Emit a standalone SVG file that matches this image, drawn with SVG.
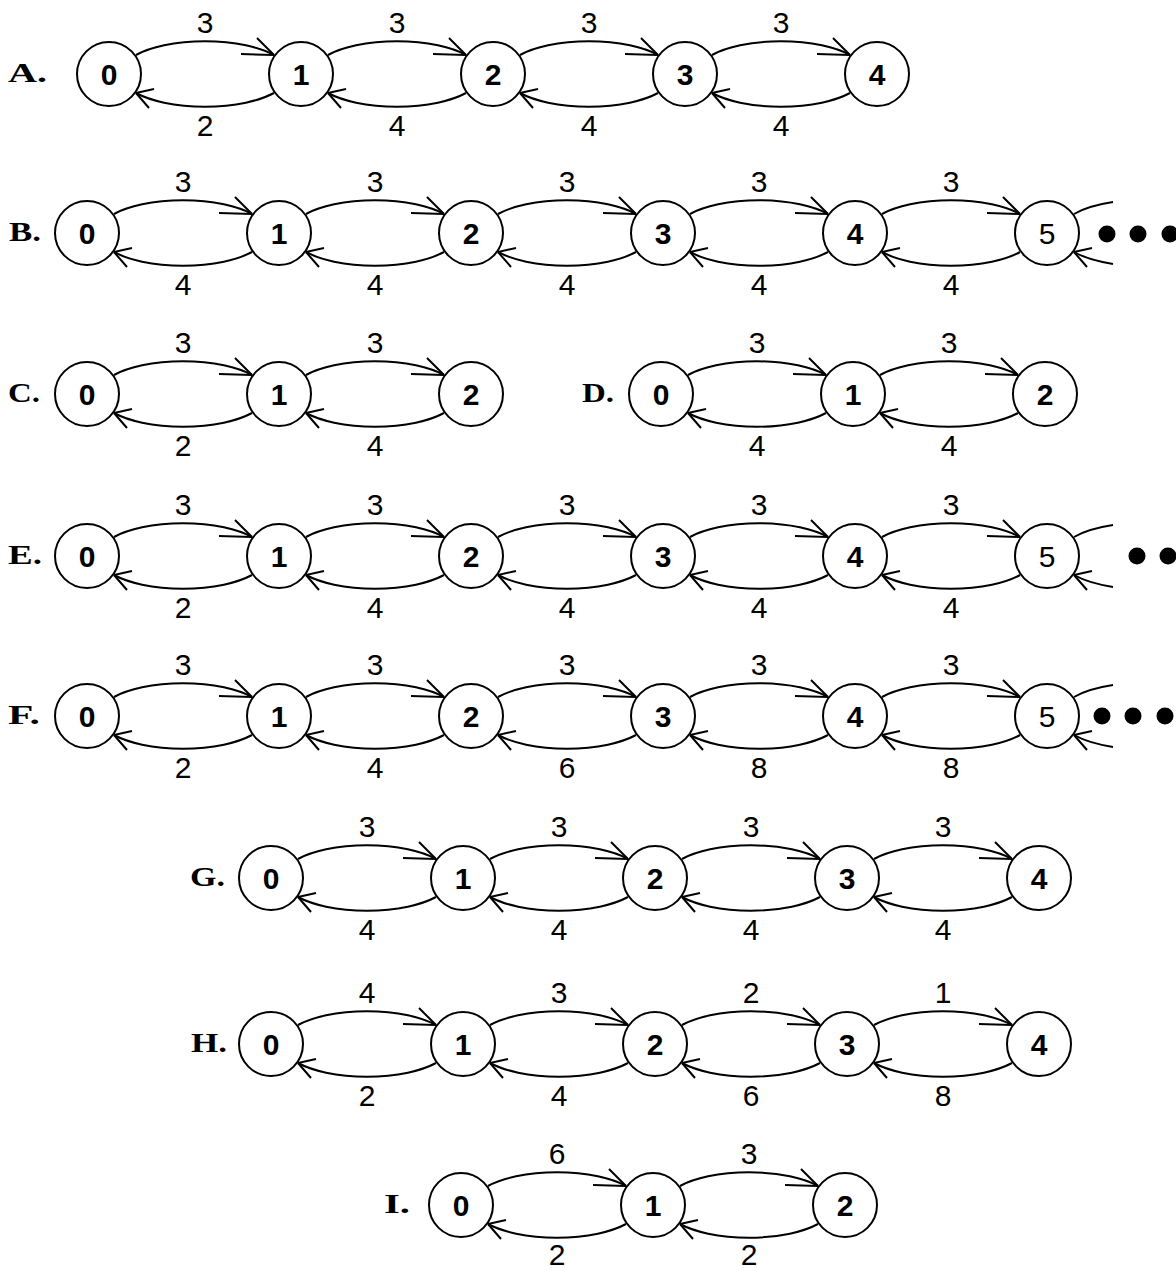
<svg xmlns="http://www.w3.org/2000/svg" width="1176" height="1271" viewBox="0 0 1176 1271">
<style>
.bg{fill:#fff}
.nd circle{fill:#fff;stroke:#000;stroke-width:2}
.nd text{font-family:"Liberation Sans",Arial,sans-serif;font-size:30px;font-weight:bold;text-anchor:middle;fill:#000}
.nd text.t{font-weight:normal}
.ed path{fill:none;stroke:#000;stroke-width:2}
.ed path.t{marker-end:url(#hr)}
.ed path.b{marker-end:url(#hl)}
.el{font-family:"Liberation Sans",Arial,sans-serif;font-size:30px;text-anchor:middle;fill:#000}
.rl{font-family:"Liberation Serif","Times New Roman",serif;font-size:28px;font-weight:bold;fill:#000}
.dot{fill:#000}
</style>
<defs>
<marker id="hr" markerUnits="userSpaceOnUse" orient="0" refX="0" refY="0" markerWidth="1" markerHeight="1" overflow="visible"><path d="M-33,-1 L0,0 M-17,-17 L0,0" fill="none" stroke="#000" stroke-width="2"/></marker>
<marker id="hl" markerUnits="userSpaceOnUse" orient="0" refX="0" refY="0" markerWidth="1" markerHeight="1" overflow="visible"><path d="M18,-4 L0,0 M13,15 L0,0" fill="none" stroke="#000" stroke-width="2"/></marker>
</defs>
<rect class="bg" x="0" y="0" width="1176" height="1271"/>

<g id="connectors" class="ed">
<g transform="translate(109,74)">
<path class="t" d="M27,-19 A85 33 0 0 1 165,-19"/><path class="b" d="M165,19 A85 33 0 0 1 27,19"/>
<path class="t" d="M219,-19 A85 33 0 0 1 357,-19"/><path class="b" d="M357,19 A85 33 0 0 1 219,19"/>
<path class="t" d="M411,-19 A85 33 0 0 1 549,-19"/><path class="b" d="M549,19 A85 33 0 0 1 411,19"/>
<path class="t" d="M603,-19 A85 33 0 0 1 741,-19"/><path class="b" d="M741,19 A85 33 0 0 1 603,19"/>
</g>
<g transform="translate(87,233)">
<path class="t" d="M27,-19 A85 33 0 0 1 165,-19"/><path class="b" d="M165,19 A85 33 0 0 1 27,19"/>
<path class="t" d="M219,-19 A85 33 0 0 1 357,-19"/><path class="b" d="M357,19 A85 33 0 0 1 219,19"/>
<path class="t" d="M411,-19 A85 33 0 0 1 549,-19"/><path class="b" d="M549,19 A85 33 0 0 1 411,19"/>
<path class="t" d="M603,-19 A85 33 0 0 1 741,-19"/><path class="b" d="M741,19 A85 33 0 0 1 603,19"/>
<path class="t" d="M795,-19 A85 33 0 0 1 933,-19"/><path class="b" d="M933,19 A85 33 0 0 1 795,19"/>
<path d="M987,-19 A85 33 0 0 1 1026,-30.9"/><path class="b" d="M1026,30.9 A85 33 0 0 1 987,19"/>
</g>
<g transform="translate(87,394)">
<path class="t" d="M27,-19 A85 33 0 0 1 165,-19"/><path class="b" d="M165,19 A85 33 0 0 1 27,19"/>
<path class="t" d="M219,-19 A85 33 0 0 1 357,-19"/><path class="b" d="M357,19 A85 33 0 0 1 219,19"/>
</g>
<g transform="translate(661,394)">
<path class="t" d="M27,-19 A85 33 0 0 1 165,-19"/><path class="b" d="M165,19 A85 33 0 0 1 27,19"/>
<path class="t" d="M219,-19 A85 33 0 0 1 357,-19"/><path class="b" d="M357,19 A85 33 0 0 1 219,19"/>
</g>
<g transform="translate(87,556)">
<path class="t" d="M27,-19 A85 33 0 0 1 165,-19"/><path class="b" d="M165,19 A85 33 0 0 1 27,19"/>
<path class="t" d="M219,-19 A85 33 0 0 1 357,-19"/><path class="b" d="M357,19 A85 33 0 0 1 219,19"/>
<path class="t" d="M411,-19 A85 33 0 0 1 549,-19"/><path class="b" d="M549,19 A85 33 0 0 1 411,19"/>
<path class="t" d="M603,-19 A85 33 0 0 1 741,-19"/><path class="b" d="M741,19 A85 33 0 0 1 603,19"/>
<path class="t" d="M795,-19 A85 33 0 0 1 933,-19"/><path class="b" d="M933,19 A85 33 0 0 1 795,19"/>
<path d="M987,-19 A85 33 0 0 1 1026,-30.9"/><path class="b" d="M1026,30.9 A85 33 0 0 1 987,19"/>
</g>
<g transform="translate(87,716)">
<path class="t" d="M27,-19 A85 33 0 0 1 165,-19"/><path class="b" d="M165,19 A85 33 0 0 1 27,19"/>
<path class="t" d="M219,-19 A85 33 0 0 1 357,-19"/><path class="b" d="M357,19 A85 33 0 0 1 219,19"/>
<path class="t" d="M411,-19 A85 33 0 0 1 549,-19"/><path class="b" d="M549,19 A85 33 0 0 1 411,19"/>
<path class="t" d="M603,-19 A85 33 0 0 1 741,-19"/><path class="b" d="M741,19 A85 33 0 0 1 603,19"/>
<path class="t" d="M795,-19 A85 33 0 0 1 933,-19"/><path class="b" d="M933,19 A85 33 0 0 1 795,19"/>
<path d="M987,-19 A85 33 0 0 1 1026,-30.9"/><path class="b" d="M1026,30.9 A85 33 0 0 1 987,19"/>
</g>
<g transform="translate(271,878)">
<path class="t" d="M27,-19 A85 33 0 0 1 165,-19"/><path class="b" d="M165,19 A85 33 0 0 1 27,19"/>
<path class="t" d="M219,-19 A85 33 0 0 1 357,-19"/><path class="b" d="M357,19 A85 33 0 0 1 219,19"/>
<path class="t" d="M411,-19 A85 33 0 0 1 549,-19"/><path class="b" d="M549,19 A85 33 0 0 1 411,19"/>
<path class="t" d="M603,-19 A85 33 0 0 1 741,-19"/><path class="b" d="M741,19 A85 33 0 0 1 603,19"/>
</g>
<g transform="translate(271,1044)">
<path class="t" d="M27,-19 A85 33 0 0 1 165,-19"/><path class="b" d="M165,19 A85 33 0 0 1 27,19"/>
<path class="t" d="M219,-19 A85 33 0 0 1 357,-19"/><path class="b" d="M357,19 A85 33 0 0 1 219,19"/>
<path class="t" d="M411,-19 A85 33 0 0 1 549,-19"/><path class="b" d="M549,19 A85 33 0 0 1 411,19"/>
<path class="t" d="M603,-19 A85 33 0 0 1 741,-19"/><path class="b" d="M741,19 A85 33 0 0 1 603,19"/>
</g>
<g transform="translate(461,1205)">
<path class="t" d="M27,-19 A85 33 0 0 1 165,-19"/><path class="b" d="M165,19 A85 33 0 0 1 27,19"/>
<path class="t" d="M219,-19 A85 33 0 0 1 357,-19"/><path class="b" d="M357,19 A85 33 0 0 1 219,19"/>
</g>
</g>

<g id="edge-labels">
<g transform="translate(109,74)">
<text class="el" x="96" y="-41">3</text><text class="el" x="288" y="-41">3</text><text class="el" x="480" y="-41">3</text><text class="el" x="672" y="-41">3</text>
<text class="el" x="96" y="62">2</text><text class="el" x="288" y="62">4</text><text class="el" x="480" y="62">4</text><text class="el" x="672" y="62">4</text>
</g>
<g transform="translate(87,233)">
<text class="el" x="96" y="-41">3</text><text class="el" x="288" y="-41">3</text><text class="el" x="480" y="-41">3</text><text class="el" x="672" y="-41">3</text><text class="el" x="864" y="-41">3</text>
<text class="el" x="96" y="62">4</text><text class="el" x="288" y="62">4</text><text class="el" x="480" y="62">4</text><text class="el" x="672" y="62">4</text><text class="el" x="864" y="62">4</text>
</g>
<g transform="translate(87,394)">
<text class="el" x="96" y="-41">3</text><text class="el" x="288" y="-41">3</text>
<text class="el" x="96" y="62">2</text><text class="el" x="288" y="62">4</text>
</g>
<g transform="translate(661,394)">
<text class="el" x="96" y="-41">3</text><text class="el" x="288" y="-41">3</text>
<text class="el" x="96" y="62">4</text><text class="el" x="288" y="62">4</text>
</g>
<g transform="translate(87,556)">
<text class="el" x="96" y="-41">3</text><text class="el" x="288" y="-41">3</text><text class="el" x="480" y="-41">3</text><text class="el" x="672" y="-41">3</text><text class="el" x="864" y="-41">3</text>
<text class="el" x="96" y="62">2</text><text class="el" x="288" y="62">4</text><text class="el" x="480" y="62">4</text><text class="el" x="672" y="62">4</text><text class="el" x="864" y="62">4</text>
</g>
<g transform="translate(87,716)">
<text class="el" x="96" y="-41">3</text><text class="el" x="288" y="-41">3</text><text class="el" x="480" y="-41">3</text><text class="el" x="672" y="-41">3</text><text class="el" x="864" y="-41">3</text>
<text class="el" x="96" y="62">2</text><text class="el" x="288" y="62">4</text><text class="el" x="480" y="62">6</text><text class="el" x="672" y="62">8</text><text class="el" x="864" y="62">8</text>
</g>
<g transform="translate(271,878)">
<text class="el" x="96" y="-41">3</text><text class="el" x="288" y="-41">3</text><text class="el" x="480" y="-41">3</text><text class="el" x="672" y="-41">3</text>
<text class="el" x="96" y="62">4</text><text class="el" x="288" y="62">4</text><text class="el" x="480" y="62">4</text><text class="el" x="672" y="62">4</text>
</g>
<g transform="translate(271,1044)">
<text class="el" x="96" y="-41">4</text><text class="el" x="288" y="-41">3</text><text class="el" x="480" y="-41">2</text><text class="el" x="672" y="-41">1</text>
<text class="el" x="96" y="62">2</text><text class="el" x="288" y="62">4</text><text class="el" x="480" y="62">6</text><text class="el" x="672" y="62">8</text>
</g>
<g transform="translate(461,1205)">
<text class="el" x="96" y="-41">6</text><text class="el" x="288" y="-41">3</text>
<text class="el" x="96" y="60">2</text><text class="el" x="288" y="60">2</text>
</g>
</g>

<g id="row-labels">
<text class="rl" x="8" y="82" textLength="39" lengthAdjust="spacingAndGlyphs">A.</text>
<text class="rl" x="9" y="241" textLength="32" lengthAdjust="spacingAndGlyphs">B.</text>
<text class="rl" x="8" y="402" textLength="32" lengthAdjust="spacingAndGlyphs">C.</text>
<text class="rl" x="582" y="402" textLength="32" lengthAdjust="spacingAndGlyphs">D.</text>
<text class="rl" x="8" y="564" textLength="34" lengthAdjust="spacingAndGlyphs">E.</text>
<text class="rl" x="8" y="724" textLength="32" lengthAdjust="spacingAndGlyphs">F.</text>
<text class="rl" x="190" y="886" textLength="35" lengthAdjust="spacingAndGlyphs">G.</text>
<text class="rl" x="191" y="1052" textLength="36" lengthAdjust="spacingAndGlyphs">H.</text>
<text class="rl" x="384" y="1213" textLength="26" lengthAdjust="spacingAndGlyphs">I.</text>
</g>

<g id="continuation-dots">
<circle class="dot" cx="1107" cy="234" r="8.5"/><circle class="dot" cx="1138" cy="234" r="8.5"/><circle class="dot" cx="1170" cy="234" r="8.5"/>
<circle class="dot" cx="1137" cy="556" r="8.5"/><circle class="dot" cx="1168" cy="556" r="8.5"/>
<circle class="dot" cx="1102" cy="716" r="8.5"/><circle class="dot" cx="1133" cy="716" r="8.5"/><circle class="dot" cx="1165" cy="716" r="8.5"/>
</g>

<g id="nodes">
<g id="A0" class="nd"><circle cx="109" cy="74" r="32"/><text x="109" y="85">0</text></g>
<g id="A1" class="nd"><circle cx="301" cy="74" r="32"/><text x="301" y="85">1</text></g>
<g id="A2" class="nd"><circle cx="493" cy="74" r="32"/><text x="493" y="85">2</text></g>
<g id="A3" class="nd"><circle cx="685" cy="74" r="32"/><text x="685" y="85">3</text></g>
<g id="A4" class="nd"><circle cx="877" cy="74" r="32"/><text x="877" y="85">4</text></g>

<g id="B0" class="nd"><circle cx="87" cy="233" r="32"/><text x="87" y="244">0</text></g>
<g id="B1" class="nd"><circle cx="279" cy="233" r="32"/><text x="279" y="244">1</text></g>
<g id="B2" class="nd"><circle cx="471" cy="233" r="32"/><text x="471" y="244">2</text></g>
<g id="B3" class="nd"><circle cx="663" cy="233" r="32"/><text x="663" y="244">3</text></g>
<g id="B4" class="nd"><circle cx="855" cy="233" r="32"/><text x="855" y="244">4</text></g>
<g id="B5" class="nd"><circle cx="1047" cy="233" r="32"/><text class="t" x="1047" y="244">5</text></g>

<g id="C0" class="nd"><circle cx="87" cy="394" r="32"/><text x="87" y="405">0</text></g>
<g id="C1" class="nd"><circle cx="279" cy="394" r="32"/><text x="279" y="405">1</text></g>
<g id="C2" class="nd"><circle cx="471" cy="394" r="32"/><text x="471" y="405">2</text></g>

<g id="D0" class="nd"><circle cx="661" cy="394" r="32"/><text x="661" y="405">0</text></g>
<g id="D1" class="nd"><circle cx="853" cy="394" r="32"/><text x="853" y="405">1</text></g>
<g id="D2" class="nd"><circle cx="1045" cy="394" r="32"/><text x="1045" y="405">2</text></g>

<g id="E0" class="nd"><circle cx="87" cy="556" r="32"/><text x="87" y="567">0</text></g>
<g id="E1" class="nd"><circle cx="279" cy="556" r="32"/><text x="279" y="567">1</text></g>
<g id="E2" class="nd"><circle cx="471" cy="556" r="32"/><text x="471" y="567">2</text></g>
<g id="E3" class="nd"><circle cx="663" cy="556" r="32"/><text x="663" y="567">3</text></g>
<g id="E4" class="nd"><circle cx="855" cy="556" r="32"/><text x="855" y="567">4</text></g>
<g id="E5" class="nd"><circle cx="1047" cy="556" r="32"/><text class="t" x="1047" y="567">5</text></g>

<g id="F0" class="nd"><circle cx="87" cy="716" r="32"/><text x="87" y="727">0</text></g>
<g id="F1" class="nd"><circle cx="279" cy="716" r="32"/><text x="279" y="727">1</text></g>
<g id="F2" class="nd"><circle cx="471" cy="716" r="32"/><text x="471" y="727">2</text></g>
<g id="F3" class="nd"><circle cx="663" cy="716" r="32"/><text x="663" y="727">3</text></g>
<g id="F4" class="nd"><circle cx="855" cy="716" r="32"/><text x="855" y="727">4</text></g>
<g id="F5" class="nd"><circle cx="1047" cy="716" r="32"/><text class="t" x="1047" y="727">5</text></g>

<g id="G0" class="nd"><circle cx="271" cy="878" r="32"/><text x="271" y="889">0</text></g>
<g id="G1" class="nd"><circle cx="463" cy="878" r="32"/><text x="463" y="889">1</text></g>
<g id="G2" class="nd"><circle cx="655" cy="878" r="32"/><text x="655" y="889">2</text></g>
<g id="G3" class="nd"><circle cx="847" cy="878" r="32"/><text x="847" y="889">3</text></g>
<g id="G4" class="nd"><circle cx="1039" cy="878" r="32"/><text x="1039" y="889">4</text></g>

<g id="H0" class="nd"><circle cx="271" cy="1044" r="32"/><text x="271" y="1055">0</text></g>
<g id="H1" class="nd"><circle cx="463" cy="1044" r="32"/><text x="463" y="1055">1</text></g>
<g id="H2" class="nd"><circle cx="655" cy="1044" r="32"/><text x="655" y="1055">2</text></g>
<g id="H3" class="nd"><circle cx="847" cy="1044" r="32"/><text x="847" y="1055">3</text></g>
<g id="H4" class="nd"><circle cx="1039" cy="1044" r="32"/><text x="1039" y="1055">4</text></g>

<g id="I0" class="nd"><circle cx="461" cy="1205" r="32"/><text x="461" y="1216">0</text></g>
<g id="I1" class="nd"><circle cx="653" cy="1205" r="32"/><text x="653" y="1216">1</text></g>
<g id="I2" class="nd"><circle cx="845" cy="1205" r="32"/><text x="845" y="1216">2</text></g>
</g>
</svg>
